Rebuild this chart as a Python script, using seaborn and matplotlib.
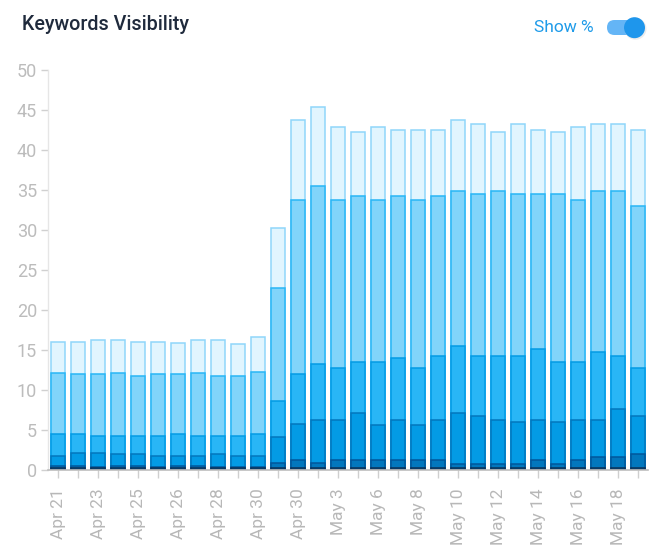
import matplotlib
matplotlib.use("Agg")
import matplotlib.pyplot as plt
from matplotlib.patches import FancyBboxPatch, Circle
import seaborn as sns
import pandas as pd
import numpy as np

# ---------------- data (cumulative tops of each stacked layer) ----------------
bar_ids = list(range(30))
tick_labels = ["Apr 21", "", "Apr 23", "", "Apr 25", "", "Apr 26", "", "Apr 28", "",
               "Apr 30", "", "Apr 30", "", "May 3", "", "May 6", "", "May 8", "",
               "May 10", "", "May 12", "", "May 14", "", "May 16", "", "May 18", ""]

layer6_top = [16.0, 16.0, 16.3, 16.2, 16.0, 16.0, 15.9, 16.2, 16.2, 15.7, 16.6, 30.3,
              43.7, 45.4, 42.9, 42.2, 42.9, 42.5, 42.5, 42.5, 43.8, 43.3, 42.2, 43.3,
              42.5, 42.2, 42.9, 43.3, 43.3, 42.5]
layer5_top = [12.1, 12.0, 12.0, 12.1, 11.75, 12.0, 12.0, 12.1, 11.8, 11.7, 12.2, 22.8,
              33.8, 35.5, 33.8, 34.2, 33.8, 34.2, 33.8, 34.2, 34.9, 34.5, 34.9, 34.5,
              34.5, 34.5, 33.8, 34.9, 34.9, 33.0]
layer4_top = [4.5, 4.5, 4.25, 4.25, 4.3, 4.25, 4.5, 4.3, 4.3, 4.25, 4.5, 8.6,
              12.0, 13.2, 12.7, 13.5, 13.5, 14.0, 12.7, 14.3, 15.5, 14.3, 14.3, 14.3,
              15.1, 13.5, 13.5, 14.7, 14.3, 12.7]
layer3_top = [1.75, 2.1, 2.1, 2.0, 2.0, 1.8, 1.8, 1.75, 2.0, 1.75, 1.75, 4.1,
              5.7, 6.25, 6.3, 7.1, 5.6, 6.3, 5.6, 6.3, 7.1, 6.7, 6.3, 6.0,
              6.3, 6.0, 6.3, 6.3, 7.6, 6.7]
layer2_top = [0.5, 0.5, 0.4, 0.5, 0.55, 0.4, 0.5, 0.5, 0.4, 0.4, 0.4, 0.85,
              1.2, 0.85, 1.2, 1.2, 1.2, 1.2, 1.2, 1.2, 0.7, 0.7, 0.7, 0.7,
              1.2, 0.7, 1.2, 1.6, 1.6, 2.0]
layer1_top = [0.25, 0.25, 0.2, 0.25, 0.3, 0.25, 0.25, 0.25, 0.2, 0.2, 0.2, 0.25,
              0.3, 0.25, 0.3, 0.3, 0.3, 0.3, 0.3, 0.3, 0.25, 0.25, 0.25, 0.25,
              0.3, 0.25, 0.3, 0.3, 0.3, 0.3]

layers = [  # drawn from the tallest (top) to the smallest (bottom)
    (layer6_top, "#e1f5fe", "#8fd6fa"),
    (layer5_top, "#81d4fa", "#29b6f6"),
    (layer4_top, "#29b6f6", "#039be5"),
    (layer3_top, "#039be5", "#0277bd"),
    (layer2_top, "#0277bd", "#01579b"),
    (layer1_top, "#01579b", "#0d3358"),
]

# ---------------- figure ----------------
sns.set_theme(style="white")
plt.rcParams["font.family"] = ["Roboto", "DejaVu Sans"]

W, H = 658, 553
fig = plt.figure(figsize=(W / 100, H / 100), dpi=100)
fig.patch.set_facecolor("white")

ax_left, ax_right, ax_top, ax_bottom = 48, 648, 70, 470
ax = fig.add_axes([ax_left / W, (H - ax_bottom) / H,
                   (ax_right - ax_left) / W, (ax_bottom - ax_top) / H])

for tops, fc, ec in layers:
    df = pd.DataFrame({"bar": bar_ids, "value": tops})
    sns.barplot(data=df, x="bar", y="value", order=bar_ids, color=fc,
                saturation=1, edgecolor=ec, linewidth=1.1, width=0.67,
                errorbar=None, ax=ax)

ax.set_xlim(-0.5, 29.5)
ax.set_ylim(0, 50)
ax.set_yticks(np.arange(0, 51, 5))
ax.set_yticklabels([str(v) for v in range(0, 51, 5)])
ax.set_xticks(bar_ids)
ax.set_xticklabels(tick_labels, rotation=90)
ax.set_xlabel("")
ax.set_ylabel("")

for s in ["top", "right"]:
    ax.spines[s].set_visible(False)
ax.spines["left"].set_color("#e6e6e6")
ax.spines["left"].set_linewidth(1)
ax.spines["bottom"].set_color("#bdbdbd")
ax.spines["bottom"].set_linewidth(1.2)

ax.tick_params(axis="y", length=5, width=1, color="#d0d0d0", pad=3,
               labelsize=13, labelcolor="#bcbcbc", left=True)
ax.tick_params(axis="x", length=6, width=1, color="#cfcfcf", pad=7,
               labelsize=12.5, labelcolor="#b8b8b8", bottom=True)
ax.grid(False)

# ---------------- header ----------------
fig.text(22 / W, 1 - 25 / H, "Keywords Visibility", fontsize=14.2,
         fontweight="medium", color="#1f2a3c", va="center", ha="left")
fig.text(594 / W, 1 - 28 / H, "Show %", fontsize=12.5, color="#1e9be9",
         va="center", ha="right")

# toggle switch
tog = fig.add_axes([600 / W, 1 - 42 / H, 55 / W, 28 / H])
tog.set_xlim(0, 55)
tog.set_ylim(0, 28)
tog.set_aspect("equal")
tog.axis("off")
tog.add_patch(FancyBboxPatch((7, 7), 34, 15, boxstyle="round,pad=0,rounding_size=7.5",
                             facecolor="#64b5f6", edgecolor="none"))
tog.add_patch(Circle((35.5, 13.2), 11, facecolor="#e0e0e0", edgecolor="none", alpha=0.6))
tog.add_patch(Circle((34.5, 14.3), 10.5, facecolor="#1e96ec", edgecolor="none"))

fig.savefig("out.png", dpi=100, facecolor="white")
